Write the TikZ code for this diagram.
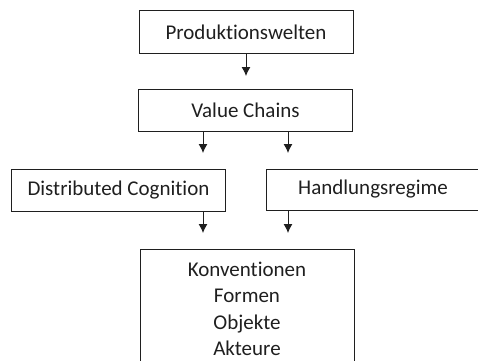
\documentclass[tikz,border=0pt]{standalone}
\usepackage{fontspec}
\setmainfont{Carlito}[RawFeature=-liga]
\usetikzlibrary{arrows,arrows.meta,positioning}

\begin{document}
\begin{tikzpicture}[x=1pt, y=-1pt, box/.style={shape=rectangle, draw, minimum width=214pt, minimum height=43pt, inner sep=0pt, font=\fontsize{21}{26.5}\selectfont}, >={Latex[length=9pt,width=9pt]}, line width=1pt, color={black!88}]
				\useasboundingbox (0,0) rectangle (478,360);
				\clip (0,0) rectangle (478,360);
				\node[box] (welten) at (246,32) {Produktionswelten};
				\node[box, minimum height=42pt] (chains) at (245.5,110) {Value Chains};
				\node[box, minimum height=42pt] (cognition) at (118.5,190) {Distributed Cognition};
				\node[box, minimum height=41pt] (regime) at (373,189.5) {Handlungsregime};
				\node[box, minimum height=119pt, align=center, anchor=north] (konv) at (247,249) {Konventionen\\Formen\\Objekte\\Akteure};
				% arrow ends
				\coordinate (a1) at (246,76);
				\coordinate (c1) at (203,153);
				\coordinate (c2) at (288,153);
				\coordinate (d1) at (203,233);
				\coordinate (d2) at (288,233);
				\draw[->] (welten.south -| a1) to (a1);
				\draw[->] (chains.south -| c1) to (c1);
				\draw[->] (chains.south -| c2) to (c2);
				\draw[->] (cognition.south -| d1) to (d1);
				\draw[->] (regime.south -| d2) to (d2);
			\end{tikzpicture}
\end{document}
